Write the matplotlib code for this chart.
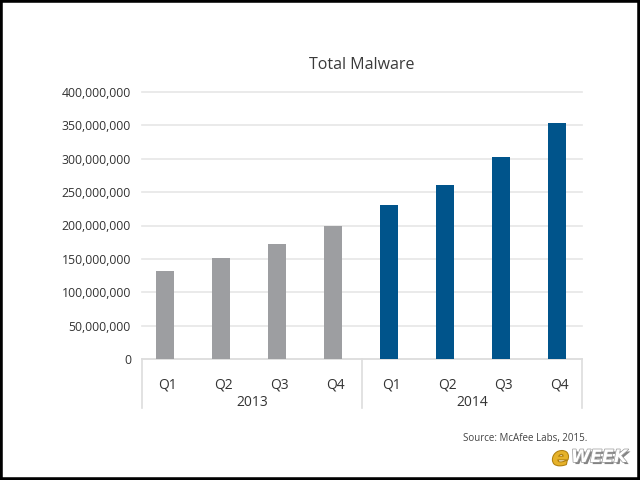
import matplotlib
matplotlib.use("Agg")
import matplotlib.pyplot as plt
from matplotlib.patches import Rectangle
import matplotlib.patheffects as pe

quarters = ["Q1", "Q2", "Q3", "Q4", "Q1", "Q2", "Q3", "Q4"]
years = ["2013", "2014"]
values = [132e6, 151e6, 172e6, 200e6, 230e6, 261e6, 302e6, 353e6]
bar_colors = ["#9d9ea1"] * 4 + ["#00548b"] * 4
yticks = [0, 50e6, 100e6, 150e6, 200e6, 250e6, 300e6, 350e6, 400e6]

W, H = 640, 480
fig = plt.figure(figsize=(6.4, 4.8), dpi=100)
fig.patch.set_facecolor("white")

left, right, bottom, top = 142, 582, 359, 92
ax = fig.add_axes([left / W, 1 - bottom / H, (right - left) / W, (bottom - top) / H])
x = list(range(len(values)))
ax.bar(x, values, width=0.32, color=bar_colors, zorder=3)
ax.set_xlim(-0.41, 7.45)
ax.set_ylim(0, 400e6)
ax.set_yticks(yticks)
ax.set_yticklabels([f"{int(v):,}" for v in yticks], fontsize=8.8, color="#333333",
                   family="Open Sans")
ax.tick_params(axis="y", length=0, pad=8)
ax.set_xticks([])
for s in ["top", "right", "left"]:
    ax.spines[s].set_visible(False)
ax.spines["bottom"].set_color("#dddddd")
ax.spines["bottom"].set_linewidth(1.2)
ax.grid(axis="y", color="#e6e6e6", linewidth=1.2, zorder=0)
for gl in ax.get_ygridlines():
    gl.set_clip_on(False)

for i, q in enumerate(quarters):
    xd = ax.transData.transform((i, 0))[0]
    fig.text(xd / W + 0.004, 1 - 385 / H, q, ha="center", va="center",
             fontsize=10, color="#333333", family="Open Sans")
for j, yr in enumerate(years):
    xc = (left + 220 * j + 110) / W
    fig.text(xc, 1 - 403 / H, yr, ha="center", va="center", fontsize=10,
             color="#333333", family="Open Sans")
for xs in [142, 362, 582]:
    fig.add_artist(plt.Line2D([xs / W, xs / W], [1 - 359 / H, 1 - 408 / H],
                              color="#dddddd", linewidth=1.2))

fig.text(362 / W, 1 - 65 / H, "Total Malware", ha="center", va="center",
         fontsize=11.5, color="#3a3a3a", family="Open Sans")
fig.text(587 / W, 1 - 438 / H, "Source: McAfee Labs, 2015.", ha="right", va="center",
         fontsize=7, color="#444444", family="Open Sans")

# eWEEK watermark
fig.text(552 / W, 1 - 458 / H, "e", ha="left", va="center", fontsize=18,
         fontweight="bold", style="italic", color="#e6b22a", family="DejaVu Sans",
         path_effects=[pe.withStroke(linewidth=1.5, foreground="#b08010")])
fig.text(571 / W, 1 - 457 / H, "WEEK", ha="left", va="center", fontsize=12.5,
         fontweight="bold", style="italic", color="white", family="DejaVu Sans",
         path_effects=[pe.withSimplePatchShadow(offset=(1.5, -1.5), shadow_rgbFace="#666666", alpha=0.8),
                       pe.withStroke(linewidth=1.0, foreground="#999999")])

fig.add_artist(Rectangle((0, 0), 1, 1, transform=fig.transFigure, fill=False,
                         edgecolor="black", linewidth=4))

fig.savefig("out.png", dpi=100)
